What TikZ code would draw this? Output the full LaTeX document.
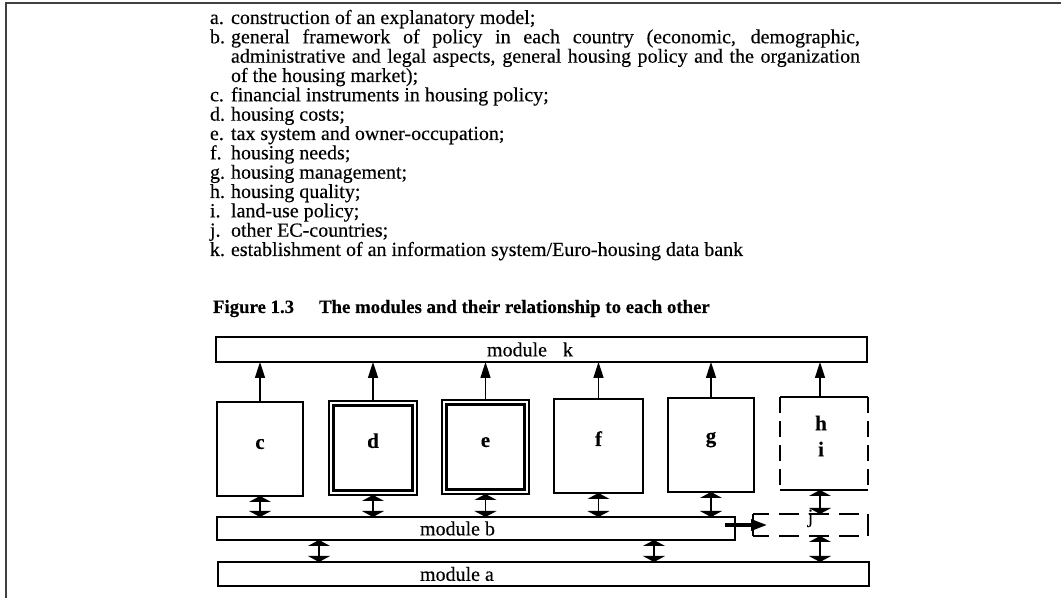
\documentclass[tikz,border=0pt]{standalone}
\usepackage{fontspec}
\setmainfont{Liberation Serif}[FakeBold=0.25]
\usetikzlibrary{arrows.meta,fit}

% fixed-width item label for the list lines
\newcommand{\ilab}[1]{\makebox[10.5pt][l]{#1}}

\begin{document}
\begin{tikzpicture}[x=0.5pt,y=-0.5pt,
  every node/.style={inner sep=0pt,outer sep=0pt},
  txt/.style={anchor=base west,font=\fontsize{10pt}{12pt}\selectfont},
  modtxt/.style={anchor=west,font=\fontsize{10pt}{11pt}\selectfont},
  letter/.style={font=\fontsize{10.5pt}{11pt}\selectfont\bfseries},
  frame/.style={line width=1.2pt},
  box/.style={draw,frame},
  outerline/.style={line width=0.6pt},
  innerline/.style={line width=1.4pt},
  hdash/.style={dash pattern=on 8pt off 4pt},
  jdash/.style={dash pattern=on 10pt off 5pt,dash phase=2pt},
  up/.style={line width=0.8pt,-{Triangle[length=8pt,width=5pt]}},
  both/.style={line width=0.8pt,{Triangle[length=3pt,width=11pt]}-{Triangle[length=3pt,width=11pt]}},
  bj/.style={line width=1.6pt,-{Triangle[length=8pt,width=5.5pt]}}
]
\useasboundingbox (0,0) rectangle (1061,598);

% page frame (top and left edges)
\draw[line width=1pt,black!75] (5.5,598) -- (5.5,3.5) -- (1061,3.5);

% list of modules
\node[txt] (la) at (210,24)    {\ilab{a.}construction of an explanatory model;};
\node[txt] (lb1) at (210,43.3) {\ilab{b.}\makebox[314.5pt][s]{general framework of policy in each country (economic, demographic,}};
\node[txt] (lb2) at (231,62.7) {\makebox[314.5pt][s]{administrative and legal aspects, general housing policy and the organization}};
\node[txt] (lb3) at (231,82)   {of the housing market);};
\node[txt] (lc) at (210,101.3) {\ilab{c.}financial instruments in housing policy;};
\node[txt] (ld) at (210,120.7) {\ilab{d.}housing costs;};
\node[txt] (le) at (210,140)   {\ilab{e.}tax system and owner-occupation;};
\node[txt] (lf) at (210,159.3) {\ilab{f.}housing needs;};
\node[txt] (lg) at (210,178.7) {\ilab{g.}housing management;};
\node[txt] (lh) at (210,198)   {\ilab{h.}housing quality;};
\node[txt] (li) at (210,217.3) {\ilab{i.}land-use policy;};
\node[txt] (lj) at (210,236.7) {\ilab{j.}other EC-countries;};
\node[txt] (lk) at (210,256)   {\ilab{k.}establishment of an information system/Euro-housing data bank};

% caption
\node[anchor=base west,font=\fontsize{9.4pt}{11pt}\selectfont\bfseries] (cap) at (213,313)
  {\makebox[53pt][l]{Figure 1.3}The modules and their relationship to each other};

% module bars
\node[box,fit={(216,337) (867,362)}] (mk) {};
\node[modtxt] (mktxt) at (487,349.5) {module\hspace{8pt}k};
\node[box,fit={(217,517) (735,540)}] (mb) {};
\node[modtxt] (mbtxt) at (420,528.5) {module b};
\node[box,fit={(218,562) (869,586)}] (ma) {};
\node[modtxt] (matxt) at (420,574) {module a};

% module boxes
\node[box,fit={(217,402) (303,496)},letter] (c) {c};
\node[draw,outerline,fit={(329,401) (417,495)},letter] (d) {d};
\draw[innerline] ([shift={(2.3pt,2.3pt)}]d.south west) rectangle ([shift={(-2.3pt,-2.3pt)}]d.north east);
\node[draw,outerline,fit={(442,400) (529,494)},letter] (e) {e};
\draw[innerline] ([shift={(2.3pt,2.3pt)}]e.south west) rectangle ([shift={(-2.3pt,-2.3pt)}]e.north east);
\node[box,fit={(554,399) (643,493)},letter] (f) {f};
\node[box,fit={(668,398) (754,492)},letter] (g) {g};

% h/i box: solid top and bottom, dashed sides
\node[fit={(780,397) (868,490)}] (hi) {};
\draw[frame] (hi.north west) -- (hi.north east);
\draw[frame] (hi.south west) -- (hi.south east);
\draw[frame,hdash] (hi.north west) -- (hi.south west);
\draw[frame,hdash] (hi.north east) -- (hi.south east);
\node[letter,align=center] (hitxt) at (821,436) {h\\[2pt]i};

% j box: solid sides, dashed top and bottom
\node[fit={(753,514) (868,536)},font=\fontsize{10pt}{11pt}\selectfont] (j) {j};
\draw[frame] (j.north west) -- (j.south west);
\draw[frame] (j.north east) -- (j.south east);
\draw[frame,jdash] (j.north west) -- (j.north east);
\draw[frame,jdash] (j.south west) -- (j.south east);

% connector columns
\coordinate (p1) at (319,0);
\coordinate (p2) at (654,0);
\coordinate (p3) at (820,0);

% arrows up to module k
\foreach \n in {c,d,e,f,g}
  \draw[up] (\n.north) -- (\n.north |- mk.south);
\draw[up] (p3 |- hi.north) -- (p3 |- mk.south);

% two-way links to module b / j
\foreach \n in {c,d,e,f,g}
  \draw[both] (\n.south) -- (\n.south |- mb.north);
\draw[both] (p3 |- hi.south) -- (p3 |- j.north);

% two-way links to module a
\draw[both] (p1 |- mb.south) -- (p1 |- ma.north);
\draw[both] (p2 |- mb.south) -- (p2 |- ma.north);
\draw[both] (p3 |- j.south) -- (p3 |- ma.north);

% module b feeds j
\draw[bj] ([xshift=-5pt]mb.east |- j.west) -- ([xshift=7pt]j.west);
\end{tikzpicture}
\end{document}
